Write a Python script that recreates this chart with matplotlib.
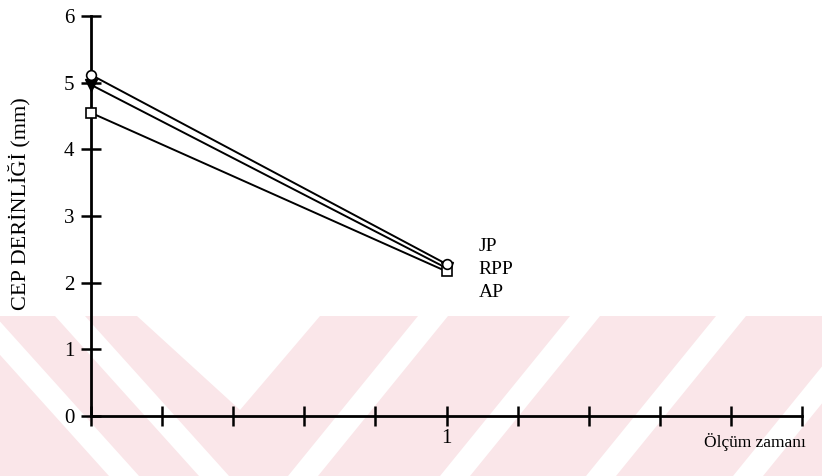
import matplotlib.pyplot as plt
from matplotlib.patches import Polygon, Rectangle
from matplotlib.ticker import MultipleLocator, FixedFormatter, FixedLocator

# measurement times and pocket depth (mm)
times = [0, 1]
jp = [5.12, 2.28]
rpp = [4.97, 2.22]
ap = [4.55, 2.17]
series_names = ['JP', 'RPP', 'AP']

plt.rcParams['font.family'] = ['Liberation Serif', 'DejaVu Serif']

fig = plt.figure(figsize=(8.22, 4.76), dpi=100)

# background axes in pixel units for the faint pink scan watermark
bg = fig.add_axes([0, 0, 1, 1], zorder=-1)
bg.set_xlim(0, 822)
bg.set_ylim(476, 0)
bg.axis('off')
pink = '#fae6e9'
bg.add_patch(Rectangle((0, 316), 822, 160, facecolor=pink, edgecolor='none'))
white_gaps = [
    [(-35, 316), (-5, 316), (139, 476), (109, 476)],
    [(55, 316), (85, 316), (229, 476), (199, 476)],
    [(137, 316), (320, 316), (240, 410)],
]
for x0 in [418, 570, 716, 863]:
    white_gaps.append([(x0, 316), (x0 + 30, 316), (x0 - 100, 476), (x0 - 130, 476)])
for g in white_gaps:
    bg.add_patch(Polygon(g, closed=True, facecolor='white', edgecolor='none'))

ax = fig.add_axes([0.1107, 0.126, 0.865, 0.840])
ax.patch.set_alpha(0)

ax.plot(times, jp, color='black', lw=1.4, marker='o', ms=7,
        mfc='white', mec='black', mew=1.2, clip_on=False, zorder=4)
ax.plot(times, rpp, color='black', lw=1.4, marker='v', ms=8,
        mfc='black', mec='black', clip_on=False, zorder=3)
ax.plot(times, ap, color='black', lw=1.4, marker='s', ms=7,
        mfc='white', mec='black', mew=1.2, clip_on=False, zorder=3)

for i, name in enumerate(series_names):
    ax.text(1.09, 2.54 - i * 0.345, name, fontsize=14, ha='left', va='center')

ax.set_xlim(0, 2)
ax.set_ylim(0, 6)
for side in ['top', 'right']:
    ax.spines[side].set_visible(False)
for side in ['left', 'bottom']:
    ax.spines[side].set_linewidth(2)

ax.xaxis.set_major_locator(FixedLocator([i * 0.2 for i in range(11)]))
ax.xaxis.set_major_formatter(FixedFormatter(['', '', '', '', '', '1', '', '', '', '', '']))
ax.yaxis.set_major_locator(MultipleLocator(1))
ax.tick_params(direction='inout', length=14, width=1.8, labelsize=15, pad=2)
ax.tick_params(axis='y', pad=5)

ax.set_ylabel('CEP DERİNLİĞİ (mm)', fontsize=16)
ax.yaxis.set_label_coords(-0.085, 0.53)
fig.text(0.857, 0.071, 'Ölçüm zamanı', fontsize=12.5, ha='left', va='center')

fig.savefig('out.png', dpi=100)
